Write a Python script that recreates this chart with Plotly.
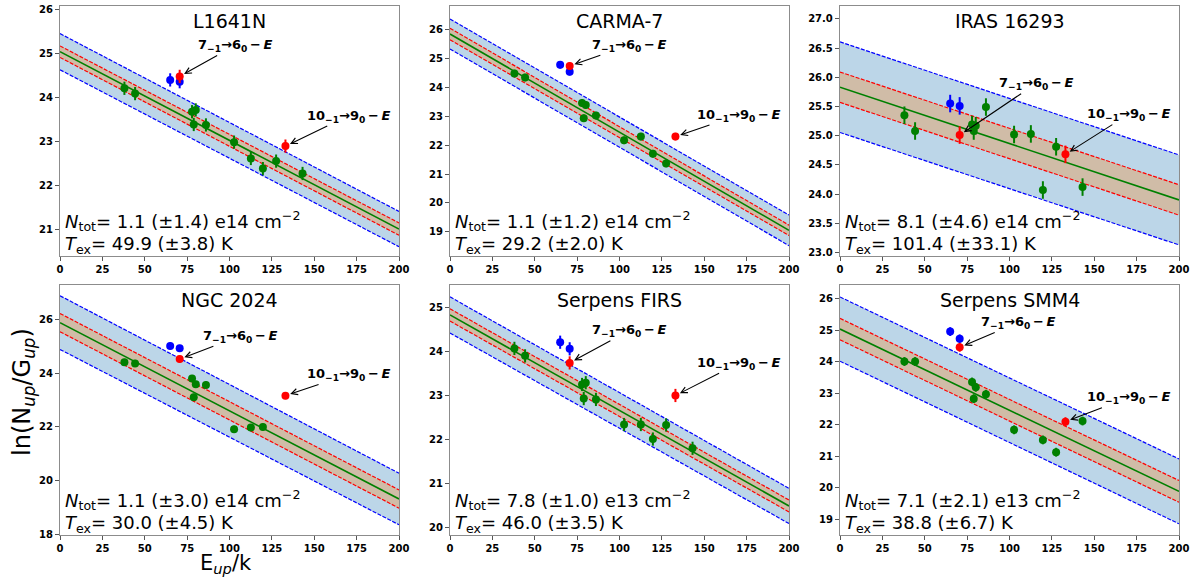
import plotly.graph_objects as go

# ---------------- data ----------------
SOURCES = ["L1641N", "CARMA-7", "IRAS 16293", "NGC 2024", "Serpens FIRS", "Serpens SMM4"]

E_GREEN = [38.0, 44.3, 77.9, 80.1, 78.9, 86.1, 102.7, 112.6, 119.7, 127.5, 143.1]
E_BLUE = [65.0, 70.6]
E_RED = [70.6, 133.0]
E_LINE = [0, 200]

GREEN_L1641N = [24.21, 24.09, 23.68, 23.72, 23.39, 23.38, 22.99, 22.62, 22.39, 22.56, 22.28]
GREEN_CARMA7 = [24.49, 24.35, 23.47, 23.40, 22.94, 23.03, 22.17, 22.30, 21.71, 21.37, None]
GREEN_IRAS = [25.35, 25.08, 25.19, 25.17, 25.08, 25.49, 25.02, 25.03, 24.07, 24.81, 24.12]
GREEN_NGC = [24.40, 24.36, 23.80, 23.58, 23.10, 23.56, 21.91, 21.97, 21.99, None, None]
GREEN_FIRS = [24.07, 23.90, 23.25, 23.29, 22.93, 22.91, 22.34, 22.34, 22.01, 22.33, 21.80]
GREEN_SMM4 = [24.01, 24.01, 23.36, 23.19, 22.83, 22.97, 21.84, None, 21.52, 21.13, 22.12]
GREEN_VALUES = [GREEN_L1641N, GREEN_CARMA7, GREEN_IRAS, GREEN_NGC, GREEN_FIRS, GREEN_SMM4]

BLUE_VALUES = [[24.40, 24.36], [24.79, 24.55], [25.55, 25.51],
               [25.01, 24.92], [24.21, 24.06], [24.96, 24.73]]
RED_VALUES = [[24.48, 22.90], [24.75, 22.30], [25.01, 24.68],
              [24.52, 23.16], [23.74, 23.00], [24.46, 22.10]]
ERRORS = [0.15, 0.13, 0.15, 0.13, 0.15, 0.14]

# fitted line values at E=0 and E=200
FIT_0 = [25.04, 25.86, 25.83, 25.88, 24.83, 25.04]
FIT_200 = [21.02, 19.05, 23.90, 19.31, 20.49, 19.885]
RED_HALF_0 = [0.13, 0.20, 0.26, 0.34, 0.14, 0.34]
RED_HALF_200 = [0.14, 0.18, 0.26, 0.34, 0.135, 0.345]
BLUE_HALF_0 = [0.41, 0.52, 0.775, 1.00, 0.41, 1.02]
BLUE_HALF_200 = [0.40, 0.53, 0.77, 0.96, 0.40, 1.03]

NTOT_TEXT = ["1.1 (±1.4) e14", "1.1 (±1.2) e14", "8.1 (±4.6) e14",
             "1.1 (±3.0) e14", "7.8 (±1.0) e13", "7.1 (±2.1) e13"]
TEX_TEXT = ["49.9 (±3.8)", "29.2 (±2.0)", "101.4 (±33.1)",
            "30.0 (±4.5)", "46.0 (±3.5)", "38.8 (±6.7)"]

X_TICKS = [0, 25, 50, 75, 100, 125, 150, 175, 200]
Y_TICKS = [[21, 22, 23, 24, 25, 26],
           [19, 20, 21, 22, 23, 24, 25, 26],
           [23.0, 23.5, 24.0, 24.5, 25.0, 25.5, 26.0, 26.5, 27.0],
           [18, 20, 22, 24, 26],
           [20, 21, 22, 23, 24, 25],
           [19, 20, 21, 22, 23, 24, 25, 26]]

# ---------------- layout constants ----------------
Y_RANGES = [[20.41, 26.075], [18.16, 26.83], [22.94, 27.22],
            [17.97, 27.28], [19.83, 25.51], [18.50, 26.44]]
X_DOMAINS = [[60 / 1200, 399 / 1200], [450 / 1200, 789 / 1200], [840 / 1200, 1179 / 1200]]
Y_DOMAINS = [[1 - 256 / 579, 1 - 6 / 579], [1 - 535 / 579, 1 - 285 / 579]]
# annotation text centres (data coords) for the two labelled transitions
ANN7_POS = [(103.3, 25.18), (105.5, 25.47), (115.6, 25.89), (106, 25.37), (105.5, 24.47), (105.2, 25.25)]
ANN10_POS = [(170, 23.58), (170.4, 23.05), (170, 25.36), (170, 23.95), (170.4, 23.73), (170, 22.86)]

FONT = "DejaVu Sans"
BLUE_FILL = "rgb(188,214,232)"
TAN_FILL = "rgb(208,188,167)"

fig = go.Figure()
annotations = []
layout_axes = {}

for i, src in enumerate(SOURCES):
    n = i + 1
    xa = "x" if n == 1 else f"x{n}"
    ya = "y" if n == 1 else f"y{n}"
    row, col = divmod(i, 3)

    fit = [FIT_0[i], FIT_200[i]]
    red_lo = [FIT_0[i] - RED_HALF_0[i], FIT_200[i] - RED_HALF_200[i]]
    red_hi = [FIT_0[i] + RED_HALF_0[i], FIT_200[i] + RED_HALF_200[i]]
    blue_lo = [FIT_0[i] - BLUE_HALF_0[i], FIT_200[i] - BLUE_HALF_200[i]]
    blue_hi = [FIT_0[i] + BLUE_HALF_0[i], FIT_200[i] + BLUE_HALF_200[i]]

    common = dict(xaxis=xa, yaxis=ya, showlegend=False, hoverinfo="skip")
    fig.add_trace(go.Scatter(x=E_LINE, y=blue_lo, mode="lines",
                             line=dict(color="blue", width=1.2, dash="4px,1.5px"), **common))
    fig.add_trace(go.Scatter(x=E_LINE, y=blue_hi, mode="lines", fill="tonexty",
                             fillcolor=BLUE_FILL,
                             line=dict(color="blue", width=1.2, dash="4px,1.5px"), **common))
    fig.add_trace(go.Scatter(x=E_LINE, y=red_lo, mode="lines",
                             line=dict(color="red", width=1.2, dash="4px,1.5px"), **common))
    fig.add_trace(go.Scatter(x=E_LINE, y=red_hi, mode="lines", fill="tonexty",
                             fillcolor=TAN_FILL,
                             line=dict(color="red", width=1.2, dash="4px,1.5px"), **common))
    fig.add_trace(go.Scatter(x=E_LINE, y=fit, mode="lines",
                             line=dict(color="green", width=1.6), **common))

    gx = [e for e, v in zip(E_GREEN, GREEN_VALUES[i]) if v is not None]
    gy = [v for v in GREEN_VALUES[i] if v is not None]
    for xs, ys, colr in [(gx, gy, "green"), (E_BLUE, BLUE_VALUES[i], "blue"),
                         (E_RED, RED_VALUES[i], "red")]:
        fig.add_trace(go.Scatter(
            x=xs, y=ys, mode="markers",
            marker=dict(color=colr, size=8, line=dict(width=0)),
            error_y=dict(type="constant", value=ERRORS[i], color=colr, thickness=2, width=0),
            **common))

    layout_axes[f"xaxis{'' if n == 1 else n}"] = dict(
        domain=X_DOMAINS[col], range=[0, 200], anchor=ya, automargin=False,
        tickvals=X_TICKS, ticktext=[str(t) for t in X_TICKS],
        showgrid=False, zeroline=False, showline=True, mirror=True,
        linecolor="#8c8c8c", linewidth=1.3, ticks="outside", ticklen=4,
        tickcolor="#555555", tickwidth=1,
        tickfont=dict(family=FONT, size=10, color="black", weight="bold"))
    layout_axes[f"yaxis{'' if n == 1 else n}"] = dict(
        domain=Y_DOMAINS[row], range=Y_RANGES[i], anchor=xa, automargin=False,
        tickvals=Y_TICKS[i],
        ticktext=[(f"{t:.1f}" if i == 2 else str(t)) for t in Y_TICKS[i]],
        showgrid=False, zeroline=False, showline=True, mirror=True,
        linecolor="#8c8c8c", linewidth=1.3, ticks="outside", ticklen=4,
        tickcolor="#555555", tickwidth=1,
        tickfont=dict(family=FONT, size=10, color="black", weight="bold"))

    dx = f"{xa} domain"
    dy = f"{ya} domain"
    annotations.append(dict(text=src, xref=dx, yref=dy, x=0.5, y=0.941,
                            xanchor="center", yanchor="middle", showarrow=False,
                            font=dict(family=FONT, size=19, color="black")))
    annotations.append(dict(text=f"<i>N</i><sub>tot</sub>= {NTOT_TEXT[i]} cm<sup>−2</sup>",
                            xref=dx, yref=dy, x=0.01, y=0.14,
                            xanchor="left", yanchor="middle", showarrow=False,
                            font=dict(family=FONT, size=18, color="black")))
    annotations.append(dict(text=f"<i>T</i><sub>ex</sub>= {TEX_TEXT[i]} K",
                            xref=dx, yref=dy, x=0.01, y=0.045,
                            xanchor="left", yanchor="middle", showarrow=False,
                            font=dict(family=FONT, size=18, color="black")))
    for label, pos, k in [("7<sub>−1</sub>→6<sub>0</sub>\u2009−\u2009<i>E</i>", ANN7_POS[i], 0),
                          ("10<sub>−1</sub>→9<sub>0</sub>\u2009−\u2009<i>E</i>", ANN10_POS[i], 1)]:
        annotations.append(dict(text=label, xref=xa, yref=ya, axref=xa, ayref=ya,
                                x=E_RED[k], y=RED_VALUES[i][k], ax=pos[0], ay=pos[1],
                                showarrow=True, arrowhead=5, arrowsize=1.1, arrowwidth=1.1,
                                arrowcolor="black", standoff=5,
                                font=dict(family=FONT, size=13, color="black", weight="bold")))

annotations.append(dict(text="ln(N<sub><i>up</i></sub>/G<sub><i>up</i></sub>)",
                        xref="paper", yref="paper", x=23 / 1200, y=1 - 392 / 579,
                        xanchor="center", yanchor="middle", textangle=-90, showarrow=False,
                        font=dict(family=FONT, size=24, color="black")))
annotations.append(dict(text="E<sub><i>up</i></sub>/k",
                        xref="paper", yref="paper", x=226 / 1200, y=1 - 564 / 579,
                        xanchor="center", yanchor="middle", showarrow=False,
                        font=dict(family=FONT, size=21, color="black")))

fig.update_layout(
    width=1200, height=579,
    margin=dict(l=0, r=0, t=0, b=0),
    paper_bgcolor="white", plot_bgcolor="white",
    annotations=annotations,
    **layout_axes,
)

fig.write_html("out.html", config={"displayModeBar": False},
               post_script="document.body.style.margin='0px';document.body.style.overflow='hidden';")
